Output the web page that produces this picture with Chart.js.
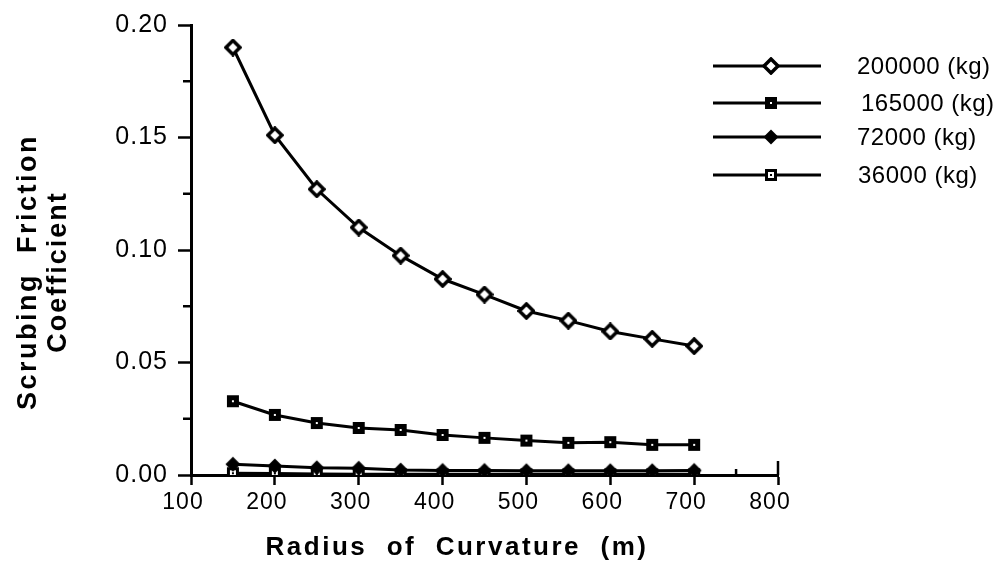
<!DOCTYPE html>
<html>
<head>
<meta charset="utf-8">
<script src="https://cdn.jsdelivr.net/npm/chart.js@4.4.0/dist/chart.umd.min.js"></script>
<style>
  html, body { margin: 0; padding: 0; background: #fff; }
</style>
</head>
<body>
<canvas id="frictionChart" width="995" height="571"></canvas>
<script>
// data
const radius = [150, 200, 250, 300, 350, 400, 450, 500, 550, 600, 650, 700];
const mass200000 = [0.190, 0.151, 0.127, 0.110, 0.0975, 0.0871, 0.0802, 0.0729, 0.0686, 0.0638, 0.0605, 0.0573];
const mass165000 = [0.0328, 0.0267, 0.0231, 0.0209, 0.0200, 0.0178, 0.0165, 0.0153, 0.0143, 0.0146, 0.0134, 0.0134];
const mass72000 = [0.0048, 0.0040, 0.0032, 0.0030, 0.0022, 0.0020, 0.0020, 0.0019, 0.0019, 0.0019, 0.0019, 0.0020];
const mass36000 = [0.0008, 0.0007, 0.0005, 0.0003, 0.0003, 0.0003, 0.0003, 0.0003, 0.0003, 0.0003, 0.0003, 0.0003];
const seriesLabels = ['200000 (kg)', '165000 (kg)', '72000 (kg)', '36000 (kg)'];
const yMinorTicks = [0.025, 0.075, 0.125, 0.175];
const xMinorTicks = [750];

// markers drawn once on small canvases
function makeMarker(kind) {
  const c = document.createElement('canvas');
  c.width = 18; c.height = 18;
  const g = c.getContext('2d');
  g.fillStyle = '#000';
  g.strokeStyle = '#000';
  if (kind === 'openDiamond') {
    g.beginPath();
    g.moveTo(9, 2); g.lineTo(16, 9); g.lineTo(9, 16); g.lineTo(2, 9); g.closePath();
    g.fillStyle = '#fff'; g.fill();
    g.lineWidth = 3.5; g.stroke();
  } else if (kind === 'filledSquare') {
    g.fillRect(3, 3, 12, 12);
    g.fillStyle = '#fff'; g.fillRect(8, 8, 2, 2);
  } else if (kind === 'filledDiamond') {
    g.beginPath();
    g.moveTo(9, 1.5); g.lineTo(16.5, 9); g.lineTo(9, 16.5); g.lineTo(1.5, 9); g.closePath();
    g.fill();
  } else {
    g.fillStyle = '#fff'; g.fillRect(4, 4, 10, 10);
    g.lineWidth = 3; g.strokeRect(4.5, 4.5, 9, 9);
    g.fillStyle = '#000'; g.fillRect(8, 8, 2, 2);
  }
  return c;
}
const markers = [makeMarker('openDiamond'), makeMarker('filledSquare'), makeMarker('filledDiamond'), makeMarker('openSquare')];

const seriesValues = [mass200000, mass165000, mass72000, mass36000];
const datasets = seriesValues.map((vals, i) => ({
  label: seriesLabels[i],
  data: radius.map((r, j) => ({ x: r, y: vals[j] })),
  borderColor: '#000',
  borderWidth: 3,
  pointStyle: markers[i],
  pointRadius: 7,
  tension: 0,
  fill: false
}));

const FONT = '"Liberation Sans", Arial, sans-serif';

const extras = {
  id: 'extras',
  beforeDraw(chart) {
    // the scanned tick labels are widely spaced
    chart.ctx.letterSpacing = '1px';
  },
  afterDraw(chart) {
    const ctx = chart.ctx;
    const xs = chart.scales.x, ys = chart.scales.y;
    ctx.save();
    ctx.strokeStyle = '#000';
    ctx.lineWidth = 2.5;
    // minor ticks
    yMinorTicks.forEach(v => {
      const py = ys.getPixelForValue(v);
      ctx.beginPath(); ctx.moveTo(xs.left - 8, py); ctx.lineTo(xs.left, py); ctx.stroke();
    });
    xMinorTicks.forEach(v => {
      const px = xs.getPixelForValue(v);
      ctx.beginPath(); ctx.moveTo(px, ys.bottom); ctx.lineTo(px, ys.bottom - 6); ctx.stroke();
    });
    const p800 = xs.getPixelForValue(800);
    ctx.beginPath(); ctx.moveTo(p800, ys.bottom); ctx.lineTo(p800, ys.bottom - 14); ctx.stroke();

    // legend
    const legendY = [66, 103, 137, 175];
    const textX = [857, 861, 857, 858];
    ctx.lineWidth = 3;
    ctx.letterSpacing = '0.5px';
    ctx.font = '24px ' + FONT;
    ctx.fillStyle = '#000';
    ctx.textBaseline = 'middle';
    seriesLabels.forEach((lab, i) => {
      const y = legendY[i];
      ctx.beginPath(); ctx.moveTo(713, y); ctx.lineTo(821, y); ctx.stroke();
      ctx.drawImage(markers[i], 771 - 9, y - 9);
      ctx.fillText(lab, textX[i], y + 1);
    });

    // axis titles
    ctx.font = 'bold 26px ' + FONT;
    ctx.letterSpacing = '2.5px';
    ctx.textAlign = 'center';
    ctx.textBaseline = 'alphabetic';
    ctx.fillText('Radius  of  Curvature  (m)', 457, 555);
    ctx.translate(0, 272);
    ctx.rotate(-Math.PI / 2);
    ctx.font = 'bold 27px ' + FONT;
    ctx.letterSpacing = '2.5px';
    ctx.fillText('Scrubing  Friction', 0, 36);
    ctx.letterSpacing = '2px';
    ctx.fillText('Coefficient', 0, 66);
    ctx.restore();
  }
};

new Chart(document.getElementById('frictionChart'), {
  type: 'line',
  data: { datasets: datasets },
  options: {
    responsive: false,
    animation: false,
    events: [],
    layout: { padding: { left: 0, right: 217, top: 17, bottom: 0 } },
    scales: {
      x: {
        type: 'linear',
        min: 100,
        max: 800,
        afterFit: s => { s.height = 96; },
        border: { display: true, color: '#000', width: 3 },
        grid: { display: true, drawOnChartArea: false, drawTicks: true, tickLength: 10, tickColor: '#000', tickWidth: 2.5 },
        ticks: {
          stepSize: 100,
          color: '#000',
          padding: 4,
          labelOffset: -8,
          maxRotation: 0,
          font: { family: FONT, size: 23 }
        }
      },
      y: {
        min: 0,
        max: 0.2,
        afterFit: s => { s.width = 191; },
        border: { display: true, color: '#000', width: 3 },
        grid: { display: true, drawOnChartArea: false, drawTicks: true, tickLength: 13, tickColor: '#000', tickWidth: 2.5 },
        ticks: {
          stepSize: 0.05,
          color: '#000',
          padding: 10,
          callback: v => v.toFixed(2),
          font: { family: FONT, size: 25 }
        }
      }
    },
    plugins: {
      legend: { display: false },
      tooltip: { enabled: false }
    }
  },
  plugins: [extras]
});
</script>
</body>
</html>
